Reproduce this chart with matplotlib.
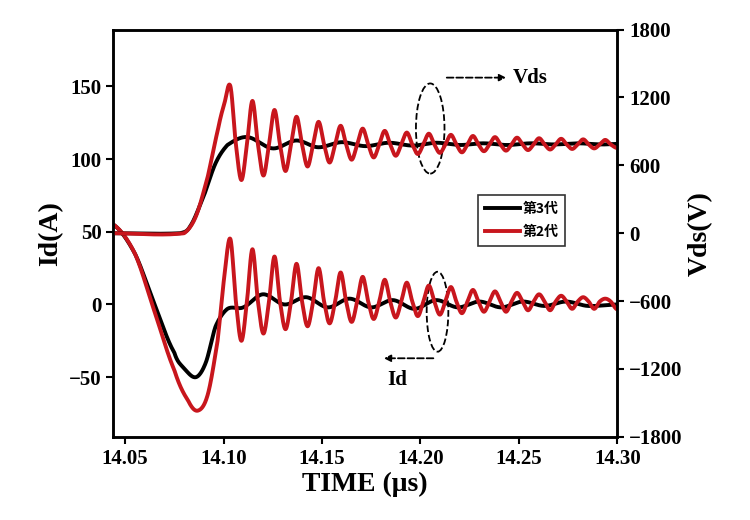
import numpy as np
import matplotlib
matplotlib.use("Agg")
import matplotlib.pyplot as plt
from matplotlib.patches import Ellipse
from matplotlib.lines import Line2D

# ---- data ----
half = 0.0056
vds2_pre_t = [14.044, 14.080, 14.086, 14.092, 14.097, 14.1005]
vds2_pre_v = [0, 0, 150, 500, 900, 1150]
vds2_ext = [1300, 470, 1170, 510, 1090, 550, 1030, 590, 985, 625, 950, 650, 925, 670,
            905, 685, 890, 700, 880, 710, 870, 715, 860, 725, 850, 730, 845, 735,
            840, 740, 835, 745, 830, 750, 825, 755]
vds2_mean = 785
vds3_t = [14.044, 14.078, 14.083, 14.090, 14.096, 14.102, 14.112, 14.125, 14.137, 14.148,
          14.160, 14.172, 14.184, 14.196, 14.208, 14.220, 14.232, 14.244, 14.256, 14.268,
          14.280, 14.292, 14.300]
vds3_v = [0, 0, 60, 330, 620, 780, 850, 750, 820, 760, 805, 770, 800, 775, 800, 780, 795,
          780, 795, 785, 795, 785, 790]
id2_pre_t = [14.044, 14.055, 14.065, 14.075, 14.082, 14.087, 14.092, 14.097, 14.1005]
id2_pre_v = [55, 35, -5, -45, -66, -73, -62, -25, 20]
id2_ext = [45, -25, 38, -20, 33, -17, 28, -15, 25, -13, 22, -12, 19, -10, 17, -9, 15, -8,
           13, -7, 12, -6, 10, -5, 9, -5, 8, -4, 7, -4, 6, -3, 5, -3, 4, -3]
id2_mean = 2
id3_t = [14.044, 14.055, 14.065, 14.075, 14.080, 14.086, 14.091, 14.096, 14.102, 14.110,
         14.120, 14.131, 14.142, 14.153, 14.164, 14.175, 14.186, 14.197, 14.208, 14.219,
         14.230, 14.241, 14.252, 14.263, 14.274, 14.285, 14.300]
id3_v = [55, 35, 0, -33, -44, -50, -40, -15, -3, -2, 7, 0, 5, -2, 4, -2, 3, -3, 3, -2, 2,
         -2, 2, -1, 2, -1, 0]
x_ticks = [14.05, 14.10, 14.15, 14.20, 14.25, 14.30]
left_ticks = [-50, 0, 50, 100, 150]
right_ticks = [-1800, -1200, -600, 0, 600, 1200, 1800]
legend_labels = ["第3代", "第2代"]

def osc(t0, ext, mean):
    t, v = [], []
    for i, e in enumerate(ext):
        t.append(t0 + i * half); v.append(e)
        if i < len(ext) - 1:
            t.append(t0 + (i + 0.5) * half); v.append(mean)
    return t, v

def smooth(t, v, n=1500):
    t = np.array(t); v = np.array(v)
    tt = np.linspace(t[0], t[-1], n)
    out = []
    for x in tt:
        i = np.searchsorted(t, x) - 1
        i = min(max(i, 0), len(t) - 2)
        p0 = v[max(i - 1, 0)]; p1 = v[i]; p2 = v[i + 1]; p3 = v[min(i + 2, len(v) - 1)]
        s = (x - t[i]) / (t[i + 1] - t[i])
        out.append(0.5 * ((2 * p1) + (-p0 + p2) * s + (2 * p0 - 5 * p1 + 4 * p2 - p3) * s ** 2
                          + (-p0 + 3 * p1 - 3 * p2 + p3) * s ** 3))
    return tt, np.array(out)

t0 = 14.1035
ot, ov = osc(t0, vds2_ext, vds2_mean)
vds2_t, vds2_v = smooth(vds2_pre_t + ot, vds2_pre_v + ov)
ot, ov = osc(t0, id2_ext, id2_mean)
id2_t, id2_v = smooth(id2_pre_t + ot, id2_pre_v + ov)
vds3_ts, vds3_vs = smooth(vds3_t, vds3_v)
id3_ts, id3_vs = smooth(id3_t, id3_v)

plt.rcParams["font.family"] = ["Liberation Serif", "Noto Sans CJK JP", "Noto Sans CJK SC"]
plt.rcParams["font.weight"] = "bold"
fig = plt.figure(figsize=(7.5, 5.2), dpi=100)
ax = fig.add_axes([0.151, 0.16, 0.672, 0.783])
ax2 = ax.twinx()

red = "#c8161d"
ax.plot(id3_ts, id3_vs, color="black", lw=2.8)
ax2.plot(vds3_ts, vds3_vs, color="black", lw=2.8)
ax.plot(id2_t, id2_v, color=red, lw=2.8)
ax2.plot(vds2_t, vds2_v, color=red, lw=2.8)

ax.set_xlim(14.044, 14.30)
ax.set_ylim(-91, 189)
ax2.set_ylim(-1800, 1800)
ax.set_xticks(x_ticks)
ax.set_xticklabels([f"{v:.2f}" for v in x_ticks])
ax.set_yticks(left_ticks)
ax.set_yticklabels([str(v).replace("-", "\u2212") for v in left_ticks])
ax2.set_yticks(right_ticks)
ax2.set_yticklabels([str(v).replace("-", "\u2212") for v in right_ticks])
for a in (ax, ax2):
    a.tick_params(labelsize=15, width=1.5, length=5)
    for s in a.spines.values():
        s.set_linewidth(1.8)
ax.set_xlabel("TIME (μs)", fontsize=20, fontweight="bold", labelpad=2)
ax.set_ylabel("Id(A)", fontsize=20, fontweight="bold")
ax2.set_ylabel("Vds(V)", fontsize=20, fontweight="bold")

h = [Line2D([], [], color="black", lw=2.8), Line2D([], [], color=red, lw=2.8)]
leg = ax.legend(h, legend_labels, loc="upper left", bbox_to_anchor=(0.71, 0.61),
                prop={"family": ["Noto Sans CJK JP", "Noto Sans CJK SC"], "size": 10},
                fancybox=False, edgecolor="black", handlelength=2.5, borderpad=0.5,
                labelspacing=0.6, handletextpad=0.2)
leg.get_frame().set_linewidth(1.2)

ax.add_patch(Ellipse((14.205, 121), 0.0145, 62, fill=False, ls="--", lw=1.3, color="black"))
ax.add_patch(Ellipse((14.2087, -5), 0.011, 55, fill=False, ls="--", lw=1.3, color="black"))
ax.annotate("", xy=(14.245, 156), xytext=(14.212, 156),
            arrowprops=dict(arrowstyle="-|>", ls="--", lw=1.3, color="black"))
ax.text(14.247, 156, "Vds", fontsize=15, fontweight="bold", va="center")
ax.annotate("", xy=(14.180, -37), xytext=(14.208, -37),
            arrowprops=dict(arrowstyle="-|>", ls="--", lw=1.3, color="black"))
ax.text(14.183, -52, "Id", fontsize=15, fontweight="bold", va="center")

fig.savefig("out.png", dpi=100)
